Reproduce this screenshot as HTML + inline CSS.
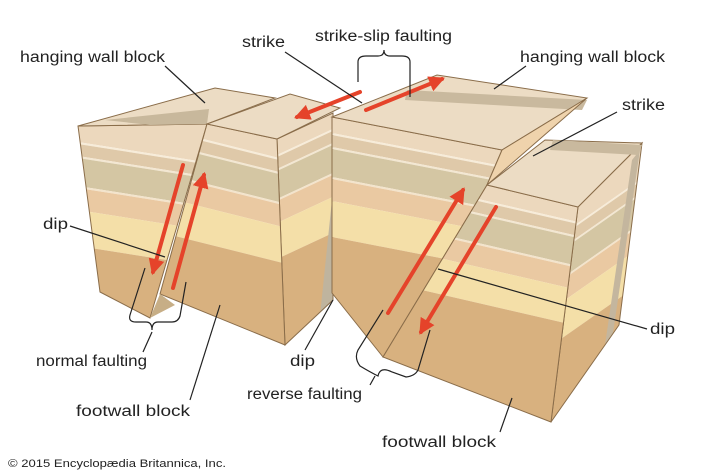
<!DOCTYPE html>
<html><head><meta charset="utf-8"><style>
html,body{margin:0;padding:0;background:#fff;width:720px;height:475px;overflow:hidden}
svg{display:block;overflow:hidden}
text{font-family:"Liberation Sans",sans-serif;font-size:15.5px;fill:#222}
</style></head><body>
<svg width="720" height="475" viewBox="0 0 720 475" xmlns="http://www.w3.org/2000/svg">
<defs>
<clipPath id="f1"><polygon points="78,126 207,124 150,318 100,292"/></clipPath>
<clipPath id="f2"><polygon points="207,124 277,139 285,345 160,294"/></clipPath>
<clipPath id="f3"><polygon points="332,117 502,150 487,185 383,357 332,293"/></clipPath>
<clipPath id="f4"><polygon points="487,185 578,207 551,422 383,357"/></clipPath>
<clipPath id="s2"><polygon points="277,139 333,113 333,300 285,345"/></clipPath>
<clipPath id="s4"><polygon points="578,207 642,143 619,325 551,422"/></clipPath>
<g id="bands">
<rect x="-150" y="-60" width="460" height="76" fill="#ecd8bd"/>
<rect x="-150" y="16" width="460" height="2" fill="#f7ecd9"/>
<rect x="-150" y="18" width="460" height="12" fill="#dfc9a9"/>
<rect x="-150" y="30" width="460" height="2" fill="#f3e7d2"/>
<rect x="-150" y="32" width="460" height="28" fill="#d4c6a3"/>
<rect x="-150" y="60" width="460" height="2" fill="#f3e4cc"/>
<rect x="-150" y="62" width="460" height="22" fill="#eac9a2"/>
<rect x="-150" y="84" width="460" height="36" fill="#f4dfa8"/>
<rect x="-150" y="120" width="460" height="130" fill="#d8b17f"/>
</g>
<marker id="ah" viewBox="0 0 10 10" refX="8" refY="5" markerWidth="4" markerHeight="4" orient="auto"><path d="M0,0 L10,5 L0,10 z" fill="#e5432a"/></marker>
</defs>

<g clip-path="url(#f1)"><g transform="translate(78,126) skewY(9)"><use href="#bands"/></g></g>
<polygon points="78,126 207,124 150,318 100,292" fill="none" stroke="#8a6d4a"/>
<polygon points="78,126 215,88 275,98 207,124" fill="#ecdcc4" stroke="#8a6d4a" stroke-width="1"/>
<polygon points="105,120 209,109 207,124 150,125" fill="#c8b89c"/>

<g clip-path="url(#s2)"><g transform="translate(277,139) skewY(-25)"><use href="#bands"/></g>
<polygon points="333,190 318,335 333,300" fill="#bfb49e"/></g>
<polygon points="277,139 333,113 333,300 285,345" fill="none" stroke="#8a6d4a"/>
<g clip-path="url(#f2)"><g transform="translate(207,124) skewY(14)"><use href="#bands"/></g></g>
<polygon points="207,124 277,139 285,345 160,294" fill="none" stroke="#8a6d4a"/>
<polygon points="150,318 160,294 175,305" fill="#c7ae86"/>
<polygon points="207,124 290,94 340,108 277,139" fill="#ecdcc4" stroke="#8a6d4a"/>

<g clip-path="url(#f3)"><g transform="translate(332,117) skewY(11)"><use href="#bands"/></g></g>
<polygon points="332,117 502,150 487,185 383,357 332,293" fill="none" stroke="#8a6d4a"/>
<polygon points="332,117 437,75 587,98 502,150" fill="#ecdcc4" stroke="#8a6d4a"/>
<polygon points="407,90 587,100 582,110 405,100" fill="#c9b99e"/>
<polygon points="587,98 502,150 487,185" fill="#efd3ac" stroke="#8a6d4a"/>

<g clip-path="url(#s4)"><g transform="translate(578,207) skewY(-35)"><use href="#bands"/></g>
<polygon points="632,160 640,150 612,340 605,345" fill="#c4b69e"/></g>
<polygon points="578,207 642,143 619,325 551,422" fill="none" stroke="#8a6d4a"/>
<g clip-path="url(#f4)"><g transform="translate(487,185) skewY(13)"><use href="#bands"/></g></g>
<polygon points="487,185 578,207 551,422 383,357" fill="none" stroke="#8a6d4a"/>
<polygon points="487,185 545,140 642,143 578,207" fill="#ecdcc4" stroke="#8a6d4a"/>
<polygon points="553,140 642,145 638,155 550,150" fill="#c9b99e"/>

<g stroke="#e5432a" stroke-width="4" fill="none" marker-end="url(#ah)" stroke-linecap="round">
<line x1="183" y1="165" x2="153" y2="272"/>
<line x1="173" y1="288" x2="204" y2="175"/>
<line x1="360" y1="92" x2="297" y2="117"/>
<line x1="366" y1="110" x2="442" y2="79"/>
<line x1="388" y1="313" x2="463" y2="190"/>
<line x1="496" y1="207" x2="421" y2="332"/>
</g>

<g stroke="#222" stroke-width="1.2" fill="none">
<line x1="165" y1="66" x2="205" y2="103"/>
<line x1="285" y1="52" x2="362" y2="103"/>
<path d="M358,82 V62 Q358,56 366,56 H378 Q384,56 384,50 Q384,56 390,56 H402 Q410,56 410,62 V97"/>
<line x1="526" y1="66" x2="494" y2="89"/>
<line x1="617" y1="112" x2="533" y2="156"/>
<line x1="70" y1="226" x2="165" y2="257"/>
<path d="M145,268 L130,315 Q128,322 136,322 H146 Q152,322 152,330 Q152,322 158,322 H172 Q178,322 180,316 L186,282"/>
<line x1="152" y1="332" x2="143" y2="352"/>
<line x1="190" y1="400" x2="220" y2="305"/>
<line x1="305" y1="350" x2="333" y2="300"/>
<path d="M383,310 L358,350 Q354,358 360,366 Q370,372 378,376 Q380,366 392,372 L406,377 Q415,376 418,370 L430,330"/>
<line x1="375" y1="376" x2="370" y2="385"/>
<line x1="647" y1="329" x2="438" y2="269"/>
<line x1="500" y1="432" x2="512" y2="398"/>
</g>

<g style="font-size:15.5px">
<text x="20" y="62" textLength="145" lengthAdjust="spacingAndGlyphs">hanging wall block</text>
<text x="242" y="47" textLength="43" lengthAdjust="spacingAndGlyphs">strike</text>
<text x="315" y="41" textLength="137" lengthAdjust="spacingAndGlyphs">strike-slip faulting</text>
<text x="520" y="62" textLength="145" lengthAdjust="spacingAndGlyphs">hanging wall block</text>
<text x="622" y="110" textLength="43" lengthAdjust="spacingAndGlyphs">strike</text>
<text x="43" y="229" textLength="25" lengthAdjust="spacingAndGlyphs">dip</text>
<text x="36" y="366" textLength="111" lengthAdjust="spacingAndGlyphs">normal faulting</text>
<text x="76" y="416" textLength="114" lengthAdjust="spacingAndGlyphs">footwall block</text>
<text x="290" y="366" textLength="25" lengthAdjust="spacingAndGlyphs">dip</text>
<text x="247" y="399" textLength="115" lengthAdjust="spacingAndGlyphs">reverse faulting</text>
<text x="650" y="334" textLength="25" lengthAdjust="spacingAndGlyphs">dip</text>
<text x="382" y="447" textLength="114" lengthAdjust="spacingAndGlyphs">footwall block</text>
</g>
<text x="8" y="467" style="font-size:11px" textLength="218" lengthAdjust="spacingAndGlyphs">© 2015 Encyclopædia Britannica, Inc.</text>
</svg>
</body></html>
